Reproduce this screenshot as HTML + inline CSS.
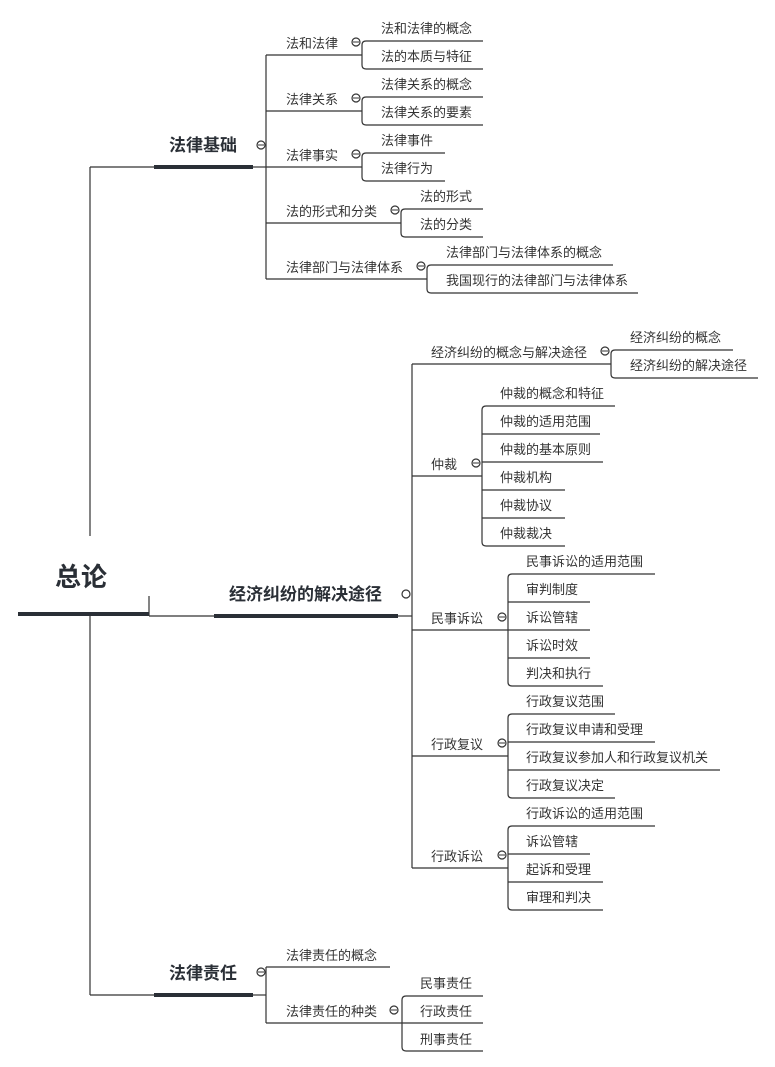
<!DOCTYPE html>
<html><head><meta charset="utf-8"><style>
html,body{margin:0;padding:0;background:#fff;}
svg{display:block;}
text{font-family:"Liberation Sans","Noto Sans CJK SC",sans-serif;fill:#333;}
.l{font-size:13px;}
.t{font-size:17px;font-weight:bold;fill:#2a2f36;}
</style></head><body>
<svg width="775" height="1067" viewBox="0 0 775 1067" xmlns="http://www.w3.org/2000/svg">
<g stroke="#333" stroke-width="1.2" fill="none">
<!-- root -->
<line x1="90" y1="167" x2="90" y2="536"/>
<line x1="90" y1="616" x2="90" y2="995"/>
<line x1="90" y1="167" x2="154" y2="167"/>
<line x1="90" y1="995" x2="154" y2="995"/>
<line x1="149" y1="596" x2="149" y2="616"/>
<line x1="149" y1="616" x2="215" y2="616"/>
<!-- 法律基础 -->
<line x1="253" y1="167" x2="266" y2="167"/>
<line x1="266" y1="55" x2="266" y2="279"/>
<line x1="266" y1="55" x2="362" y2="55"/>
<line x1="266" y1="111" x2="362" y2="111"/>
<line x1="266" y1="167" x2="362" y2="167"/>
<line x1="266" y1="223" x2="401" y2="223"/>
<line x1="266" y1="279" x2="427" y2="279"/>
<path d="M362 45 Q362 41 366 41 H483 M362 45 V65 Q362 69 366 69 H483"/>
<path d="M362 101 Q362 97 366 97 H483 M362 101 V121 Q362 125 366 125 H483"/>
<path d="M362 157 Q362 153 366 153 H445 M362 157 V177 Q362 181 366 181 H445"/>
<path d="M401 213 Q401 209 405 209 H483 M401 213 V233 Q401 237 405 237 H483"/>
<path d="M427 269 Q427 265 431 265 H613 M427 269 V289 Q427 293 431 293 H638"/>
<!-- 经济纠纷 -->
<line x1="398" y1="616" x2="412" y2="616"/>
<line x1="412" y1="364" x2="412" y2="868"/>
<line x1="412" y1="364" x2="611" y2="364"/>
<line x1="412" y1="476" x2="482" y2="476"/>
<line x1="412" y1="630" x2="508" y2="630"/>
<line x1="412" y1="756" x2="508" y2="756"/>
<line x1="412" y1="868" x2="508" y2="868"/>
<path d="M611 354 Q611 350 615 350 H733 M611 354 V374 Q611 378 615 378 H758"/>
<path d="M482 410 Q482 406 486 406 H615 M482 410 V542 Q482 546 486 546 H565 M482 434 H600 M482 462 H603 M482 490 H565 M482 518 H565"/>
<path d="M508 578 Q508 574 512 574 H655 M508 578 V682 Q508 686 512 686 H603 M508 602 H590 M508 630 H590 M508 658 H590"/>
<path d="M508 718 Q508 714 512 714 H615 M508 718 V794 Q508 798 512 798 H615 M508 742 H655 M508 770 H720"/>
<path d="M508 830 Q508 826 512 826 H655 M508 830 V906 Q508 910 512 910 H603 M508 854 H590 M508 882 H603"/>
<!-- 法律责任 -->
<line x1="253" y1="995" x2="266" y2="995"/>
<line x1="266" y1="967" x2="266" y2="1023"/>
<line x1="266" y1="967" x2="390" y2="967"/>
<line x1="266" y1="1023" x2="402" y2="1023"/>
<path d="M402 1000 Q402 996 406 996 H483 M402 1000 V1047 Q402 1051 406 1051 H483 M402 1023 H483"/>
<!-- circles -->
<circle cx="356" cy="42" r="4"/><circle cx="356" cy="98" r="4"/><circle cx="356" cy="154" r="4"/>
<circle cx="395" cy="210" r="4"/><circle cx="421" cy="266" r="4"/><circle cx="261" cy="145" r="4"/>
<circle cx="605" cy="351" r="4"/><circle cx="476" cy="463" r="4"/><circle cx="502" cy="617" r="4"/>
<circle cx="502" cy="743" r="4"/><circle cx="502" cy="855" r="4"/><circle cx="406" cy="594" r="4"/>
<circle cx="261" cy="972" r="4"/><circle cx="394" cy="1010" r="4"/>
</g>
<g fill="#333">
<circle cx="356" cy="42" r="0"/>
</g>
<g stroke="#333" stroke-width="1">
<line x1="353" y1="42" x2="359" y2="42"/><line x1="353" y1="98" x2="359" y2="98"/><line x1="353" y1="154" x2="359" y2="154"/>
<line x1="392" y1="210" x2="398" y2="210"/><line x1="418" y1="266" x2="424" y2="266"/><line x1="258" y1="145" x2="264" y2="145"/>
<line x1="602" y1="351" x2="608" y2="351"/><line x1="473" y1="463" x2="479" y2="463"/><line x1="499" y1="617" x2="505" y2="617"/>
<line x1="499" y1="743" x2="505" y2="743"/><line x1="499" y1="855" x2="505" y2="855"/>
<line x1="258" y1="972" x2="264" y2="972"/><line x1="391" y1="1010" x2="397" y2="1010"/>
</g>
<!-- thick bars -->
<rect x="18" y="612" width="131" height="4" fill="#2a2f36"/>
<rect x="214" y="614" width="184" height="4" fill="#2a2f36"/>
<rect x="154" y="165" width="99" height="4" fill="#2a2f36"/>
<rect x="154" y="993" width="99" height="4" fill="#2a2f36"/>
<!-- titles -->
<text x="55" y="586" style="font-size:26px;font-weight:bold;fill:#2a2f36">总论</text>
<text x="229" y="600" class="t">经济纠纷的解决途径</text>
<text x="169" y="151" class="t">法律基础</text>
<text x="169" y="979" class="t">法律责任</text>
<!-- labels -->
<g class="l">
<text x="286" y="48">法和法律</text>
<text x="286" y="104">法律关系</text>
<text x="286" y="160">法律事实</text>
<text x="286" y="216">法的形式和分类</text>
<text x="286" y="272">法律部门与法律体系</text>
<text x="381" y="33">法和法律的概念</text>
<text x="381" y="61">法的本质与特征</text>
<text x="381" y="89">法律关系的概念</text>
<text x="381" y="117">法律关系的要素</text>
<text x="381" y="145">法律事件</text>
<text x="381" y="173">法律行为</text>
<text x="420" y="201">法的形式</text>
<text x="420" y="229">法的分类</text>
<text x="446" y="257">法律部门与法律体系的概念</text>
<text x="446" y="285">我国现行的法律部门与法律体系</text>
<text x="431" y="357">经济纠纷的概念与解决途径</text>
<text x="630" y="342">经济纠纷的概念</text>
<text x="630" y="370">经济纠纷的解决途径</text>
<text x="431" y="469">仲裁</text>
<text x="500" y="398">仲裁的概念和特征</text>
<text x="500" y="426">仲裁的适用范围</text>
<text x="500" y="454">仲裁的基本原则</text>
<text x="500" y="482">仲裁机构</text>
<text x="500" y="510">仲裁协议</text>
<text x="500" y="538">仲裁裁决</text>
<text x="431" y="623">民事诉讼</text>
<text x="526" y="566">民事诉讼的适用范围</text>
<text x="526" y="594">审判制度</text>
<text x="526" y="622">诉讼管辖</text>
<text x="526" y="650">诉讼时效</text>
<text x="526" y="678">判决和执行</text>
<text x="431" y="749">行政复议</text>
<text x="526" y="706">行政复议范围</text>
<text x="526" y="734">行政复议申请和受理</text>
<text x="526" y="762">行政复议参加人和行政复议机关</text>
<text x="526" y="790">行政复议决定</text>
<text x="431" y="861">行政诉讼</text>
<text x="526" y="818">行政诉讼的适用范围</text>
<text x="526" y="846">诉讼管辖</text>
<text x="526" y="874">起诉和受理</text>
<text x="526" y="902">审理和判决</text>
<text x="286" y="960">法律责任的概念</text>
<text x="286" y="1016">法律责任的种类</text>
<text x="420" y="988">民事责任</text>
<text x="420" y="1016">行政责任</text>
<text x="420" y="1044">刑事责任</text>
</g>
</svg>
</body></html>
